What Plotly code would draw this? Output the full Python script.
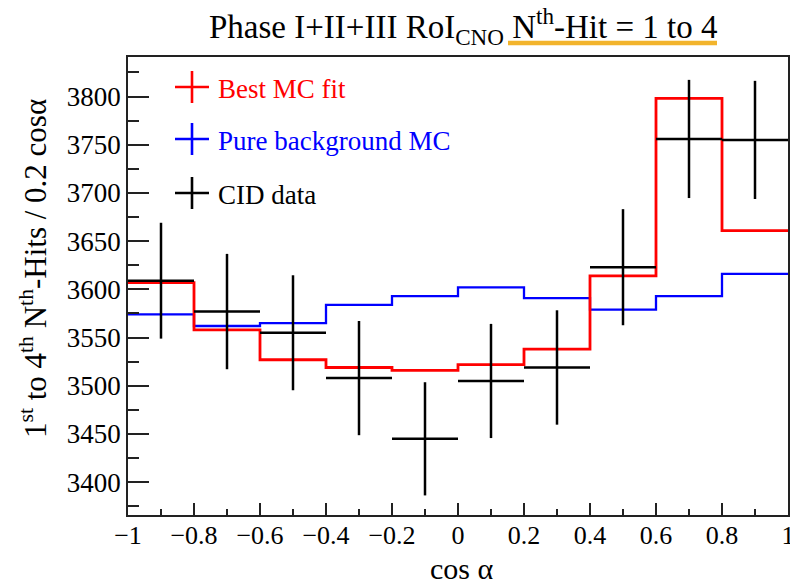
import numpy as np
import plotly.graph_objects as go

# ---------------- data ----------------
bin_edges = [-1.0, -0.8, -0.6, -0.4, -0.2, 0.0, 0.2, 0.4, 0.6, 0.8, 1.0]
best_mc_fit = [3607, 3558, 3527, 3519, 3516, 3522, 3538, 3614, 3798, 3661]
pure_bkg_mc = [3574, 3562, 3565, 3584, 3593, 3602, 3591, 3579, 3593, 3616]
cid_data = [3609, 3577, 3555, 3508, 3445, 3505, 3519, 3623, 3756, 3755]

x_tick_vals = [-1.0, -0.8, -0.6, -0.4, -0.2, 0.0, 0.2, 0.4, 0.6, 0.8, 1.0]
x_tick_text = ["\u22121", "\u22120.8", "\u22120.6", "\u22120.4", "\u22120.2", "0", "0.2", "0.4", "0.6", "0.8", "1"]
y_tick_vals = [3400, 3450, 3500, 3550, 3600, 3650, 3700, 3750, 3800]

legend_labels = ["Best MC fit", "Pure background MC", "CID data"]
legend_colors = ["#FF0000", "#0000FF", "#000000"]

title_text = "Phase I+II+III RoI<sub>CNO</sub> N<sup>th</sup>-Hit = 1 to 4"
x_title = "cos \u03b1"
y_title = "1<sup>st</sup> to 4<sup>th</sup> N<sup>th</sup>-Hits / 0.2 cos\u03b1"

FONT = "Liberation Serif"

edges = np.array(bin_edges)
centers = 0.5 * (edges[:-1] + edges[1:])
half_w = 0.5 * np.diff(edges)

def step_xy(vals):
    return list(edges), list(vals) + [vals[-1]]

fig = go.Figure()

xs, ys = step_xy(pure_bkg_mc)
fig.add_trace(go.Scatter(x=xs, y=ys, mode="lines", line=dict(color=legend_colors[1], width=2.3, shape="hv"),
                         showlegend=False, hoverinfo="skip"))
xs, ys = step_xy(best_mc_fit)
fig.add_trace(go.Scatter(x=xs, y=ys, mode="lines", line=dict(color=legend_colors[0], width=2.8, shape="hv"),
                         showlegend=False, hoverinfo="skip"))
fig.add_trace(go.Scatter(
    x=centers, y=cid_data, mode="markers", marker=dict(size=1, color="black", opacity=0),
    error_x=dict(type="data", array=list(half_w), width=0, thickness=2.5, color="black"),
    error_y=dict(type="data", array=list(np.sqrt(np.array(cid_data))), width=0, thickness=2.5, color="black"),
    showlegend=False))

# plot-area geometry (pixels) used to place decorations
L, R, T, B = 128, 788, 57, 515
W, H = R - L, B - T
def px(xp):
    return (xp - L) / W
def py(yp):
    return (B - yp) / H

shapes = []
annotations = []

# manual legend (crosses + coloured labels)
rows_y = [87, 139, 193]
for lab, col, yy in zip(legend_labels, legend_colors, rows_y):
    shapes.append(dict(type="line", xref="paper", yref="paper", x0=px(175), x1=px(209), y0=py(yy), y1=py(yy),
                       line=dict(color=col, width=2.6)))
    shapes.append(dict(type="line", xref="paper", yref="paper", x0=px(192), x1=px(192), y0=py(yy - 16), y1=py(yy + 16),
                       line=dict(color=col, width=2.6)))
    annotations.append(dict(xref="paper", yref="paper", x=px(216), y=py(yy + 2), xanchor="left", yanchor="middle",
                            text=lab, showarrow=False, font=dict(family=FONT, size=27, color=col)))

# title
annotations.append(dict(xref="paper", yref="paper", x=px(463), y=py(26), xanchor="center", yanchor="middle",
                        text=title_text, showarrow=False, font=dict(family=FONT, size=33, color="black")))
shapes.append(dict(type="line", xref="paper", yref="paper", x0=px(508), x1=px(717), y0=py(43), y1=py(43),
                   line=dict(color="#F2B42C", width=4.5)))

# axis titles
annotations.append(dict(xref="paper", yref="paper", x=px(461), y=py(568), xanchor="center", yanchor="middle",
                        text=x_title, showarrow=False, font=dict(family=FONT, size=30, color="black")))
annotations.append(dict(xref="paper", yref="paper", x=px(33), y=py(269), xanchor="center", yanchor="middle",
                        text=y_title, textangle=-90, showarrow=False, font=dict(family=FONT, size=31, color="black")))

fig.update_layout(
    width=790, height=585,
    margin=dict(l=L, r=790 - R, t=T, b=585 - B, autoexpand=False),
    paper_bgcolor="white", plot_bgcolor="white",
    font=dict(family=FONT, size=27, color="black"),
    shapes=shapes, annotations=annotations,
    showlegend=False,
)
fig.update_xaxes(
    range=[-1, 1], tickmode="array", tickvals=x_tick_vals, ticktext=x_tick_text,
    showgrid=False, zeroline=False, automargin=False,
    showline=True, mirror=True, linecolor="#222222", linewidth=1.7,
    ticks="inside", ticklen=12, tickwidth=1.5, tickcolor="#222222",
    minor=dict(dtick=0.1, tick0=-1, ticks="inside", ticklen=6, tickwidth=1.5, tickcolor="#222222", showgrid=False),
    tickfont=dict(family=FONT, size=26, color="black"), ticklabelstandoff=-4,
    ticklabeloverflow="allow",
)
fig.update_yaxes(
    range=[3366, 3841], tickmode="array", tickvals=y_tick_vals, showgrid=False, zeroline=False, automargin=False,
    showline=True, mirror=True, linecolor="#222222", linewidth=1.7,
    ticks="inside", ticklen=21, tickwidth=1.5, tickcolor="#222222",
    minor=dict(dtick=25, tick0=3400, ticks="inside", ticklen=11, tickwidth=1.5, tickcolor="#222222", showgrid=False),
    tickfont=dict(family=FONT, size=27, color="black"),
)

fig.write_html("out.html")
